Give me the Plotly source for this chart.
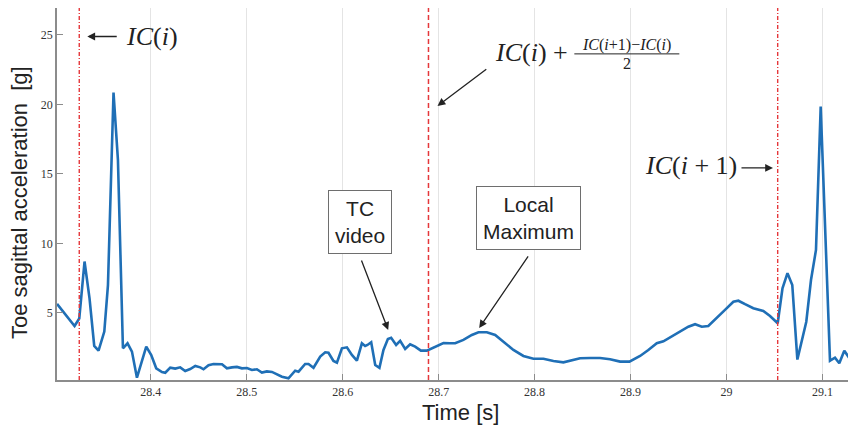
import plotly.graph_objects as go

# ---- data -------------------------------------------------------------
time_s = [
    28.3023, 28.3206, 28.3255, 28.3310, 28.3362, 28.3411, 28.3456, 28.3516, 28.3554, 28.3612,
    28.3658, 28.3710, 28.3758, 28.3804, 28.3856, 28.3953, 28.4005, 28.4057, 28.4117, 28.4151,
    28.4203, 28.4255, 28.4307, 28.4359, 28.4411, 28.4464, 28.4516, 28.4550, 28.4602, 28.4654,
    28.4742, 28.4794, 28.4846, 28.4898, 28.4950, 28.5002, 28.5054, 28.5106, 28.5158, 28.5210,
    28.5263, 28.5315, 28.5367, 28.5435, 28.5505, 28.5540, 28.5609, 28.5644, 28.5696, 28.5766,
    28.5818, 28.5852, 28.5904, 28.5940, 28.5992, 28.6044, 28.6096, 28.6148, 28.6200, 28.6234,
    28.6258, 28.6297, 28.6339, 28.6383, 28.6425, 28.6471, 28.6505, 28.6557, 28.6599, 28.6651,
    28.6703, 28.6755, 28.6815, 28.6877, 28.6929, 28.6998, 28.7050, 28.7120, 28.7172, 28.7258,
    28.7346, 28.7415, 28.7502, 28.7589, 28.7675, 28.7779, 28.7883, 28.7988, 28.8092, 28.8196,
    28.8300, 28.8370, 28.8474, 28.8578, 28.8682, 28.8786, 28.8891, 28.8988, 28.9099, 28.9185,
    28.9273, 28.9342, 28.9429, 28.9516, 28.9602, 28.9672, 28.9742, 28.9810, 28.9898, 28.9984,
    29.0071, 29.0123, 29.0193, 29.0279, 29.0383, 29.0453, 29.0533, 29.0583, 29.0635, 29.0685,
    29.0738, 29.0831, 29.0880, 29.0932, 29.0981, 29.1078, 29.1130, 29.1175, 29.1227, 29.1269,
    29.1321, 29.1349,
]
accel_g = [
    5.65, 4.06, 4.60, 8.70, 6.05, 2.63, 2.29, 3.66, 7.00, 20.85,
    16.00, 2.46, 2.82, 2.22, 0.35, 2.58, 1.98, 1.02, 0.75, 0.70,
    1.07, 1.00, 1.09, 0.83, 0.97, 1.19, 1.09, 0.95, 1.24, 1.33,
    1.31, 1.02, 1.09, 1.12, 1.02, 1.04, 0.90, 0.95, 0.71, 0.80,
    0.76, 0.61, 0.42, 0.30, 0.85, 0.78, 1.33, 1.33, 1.06, 1.86,
    2.17, 2.14, 1.55, 1.42, 2.46, 2.53, 1.98, 1.57, 2.82, 2.63,
    2.70, 2.89, 1.26, 1.06, 2.34, 3.13, 3.22, 2.70, 2.99, 2.41,
    2.75, 2.58, 2.29, 2.29, 2.46, 2.70, 2.84, 2.82, 2.82, 3.06,
    3.42, 3.61, 3.61, 3.42, 2.94, 2.34, 1.91, 1.71, 1.71, 1.55,
    1.45, 1.58, 1.74, 1.76, 1.76, 1.67, 1.50, 1.50, 1.91, 2.34,
    2.82, 2.96, 3.30, 3.70, 4.01, 4.19, 4.01, 4.06, 4.62, 5.22,
    5.81, 5.88, 5.63, 5.34, 5.14, 4.78, 4.26, 6.78, 7.86, 7.01,
    1.65, 4.37, 7.37, 9.53, 19.84, 1.57, 1.78, 1.38, 2.29, 1.86,
    2.17, 2.10,
]
ic_times = [28.3255, 29.0533]
x_tick_vals = [28.4, 28.5, 28.6, 28.7, 28.8, 28.9, 29.0, 29.1]
x_tick_text = ["28.4", "28.5", "28.6", "28.7", "28.8", "28.9", "29", "29.1"]
y_tick_vals = [5, 10, 15, 20, 25]
y_tick_text = ["5", "10", "15", "20", "25"]

mid_time = ic_times[0] + (ic_times[1] - ic_times[0]) / 2

RED = "#e5383b"
BLUE = "#1f6fb6"
AXIS = "#8c8c8c"
INK = "#222222"
SERIF = "Liberation Serif, DejaVu Serif, serif"
SANS = "Liberation Sans, Arial, sans-serif"

fig = go.Figure()
fig.add_trace(go.Scatter(x=time_s, y=accel_g, mode="lines",
                         line=dict(color=BLUE, width=2.6), showlegend=False,
                         hoverinfo="skip"))

# vertical IC lines
for t in ic_times:
    fig.add_shape(type="line", x0=t, x1=t, yref="paper", y0=0, y1=1,
                  line=dict(color=RED, width=1.4, dash="4px,2px,1px,2px"))
fig.add_shape(type="line", x0=mid_time, x1=mid_time, yref="paper", y0=0, y1=1,
              line=dict(color=RED, width=1.5, dash="5px,3px"))

annos = []

def arrow(tail, head):
    annos.append(dict(x=head[0], y=head[1], ax=tail[0], ay=tail[1],
                      xref="x", yref="y", axref="x", ayref="y", text="",
                      showarrow=True, arrowhead=2, arrowsize=1.2, arrowwidth=1.3,
                      arrowcolor=INK))

# IC(i)
arrow((28.3661, 24.88), (28.3339, 24.88))
annos.append(dict(x=28.3724, y=24.88, xref="x", yref="y", xanchor="left", yanchor="middle",
                  text="<i>IC</i>(<i>i</i>)", showarrow=False,
                  font=dict(family=SERIF, size=26, color=INK)))
# midpoint
arrow((28.7512, 22.60), (28.6988, 19.89))
annos.append(dict(x=28.7565, y=23.75, xref="x", yref="y", xanchor="left", yanchor="middle",
                  text="<i>IC</i>(<i>i</i>) +", showarrow=False,
                  font=dict(family=SERIF, size=26, color=INK)))
annos.append(dict(x=28.8962, y=24.25, xref="x", yref="y", xanchor="center", yanchor="middle",
                  text="<i>IC</i>(<i>i</i>+1)−<i>IC</i>(<i>i</i>)", showarrow=False,
                  font=dict(family=SERIF, size=16, color=INK)))
annos.append(dict(x=28.8962, y=22.95, xref="x", yref="y", xanchor="center", yanchor="middle",
                  text="2", showarrow=False,
                  font=dict(family=SERIF, size=16, color=INK)))
fig.add_shape(type="line", x0=28.8414, x1=28.9508, y0=23.63, y1=23.63,
              line=dict(color=INK, width=1))
# IC(i+1)
arrow((29.0140, 15.43), (29.0484, 15.43))
annos.append(dict(x=29.0125, y=15.60, xref="x", yref="y", xanchor="right", yanchor="middle",
                  text="<i>IC</i>(<i>i</i> + 1)", showarrow=False,
                  font=dict(family=SERIF, size=26, color=INK)))
# boxes
arrow((28.6190, 8.88), (28.6474, 3.78))
annos.append(dict(x=28.6182, y=11.55, xref="x", yref="y", xanchor="center", yanchor="middle",
                  text="TC<br>video", showarrow=False, align="center",
                  bordercolor="#6e6e6e", borderwidth=1, borderpad=6, bgcolor="white",
                  font=dict(family=SANS, size=21, color=INK)))
arrow((28.7943, 9.17), (28.7422, 3.92))
annos.append(dict(x=28.7938, y=11.80, xref="x", yref="y", xanchor="center", yanchor="middle",
                  text="Local<br>Maximum", showarrow=False, align="center",
                  bordercolor="#6e6e6e", borderwidth=1, borderpad=6, bgcolor="white",
                  font=dict(family=SANS, size=21, color=INK)))

# axis titles
annos.append(dict(x=0, y=0.5, xref="paper", yref="paper", xshift=-38, yshift=-9,
                  text="Toe sagittal acceleration\u00a0\u00a0[g]", textangle=-90,
                  showarrow=False, xanchor="center", yanchor="middle",
                  font=dict(family=SANS, size=22, color=INK)))
annos.append(dict(x=0.5, y=0, xref="paper", yref="paper", xshift=4, yshift=-32,
                  text="Time [s]", showarrow=False, xanchor="center", yanchor="middle",
                  font=dict(family=SANS, size=22, color=INK)))

# the page body adds an 8px offset; size the figure so the plot lands where the reference has it
fig.update_layout(
    width=848, height=422,
    margin=dict(l=49, r=0, t=0, b=50),
    paper_bgcolor="white", plot_bgcolor="white",
    annotations=annos,
    xaxis=dict(range=[28.3023, 29.1349], tickvals=x_tick_vals, ticktext=x_tick_text,
               showgrid=True, gridcolor="#e4e4e4", gridwidth=1, zeroline=False,
               showline=True, linecolor=AXIS, linewidth=1.5,
               ticks="inside", ticklen=6, tickcolor=AXIS, tickwidth=1,
               tickfont=dict(family=SERIF, size=12, color="#333333")),
    yaxis=dict(range=[0.18, 26.93], tickvals=y_tick_vals, ticktext=y_tick_text,
               showgrid=False, zeroline=False,
               showline=True, linecolor=AXIS, linewidth=1.5,
               ticks="inside", ticklen=6, tickcolor=AXIS, tickwidth=1,
               tickfont=dict(family=SERIF, size=12, color="#333333")),
)

fig.write_html("out.html")
